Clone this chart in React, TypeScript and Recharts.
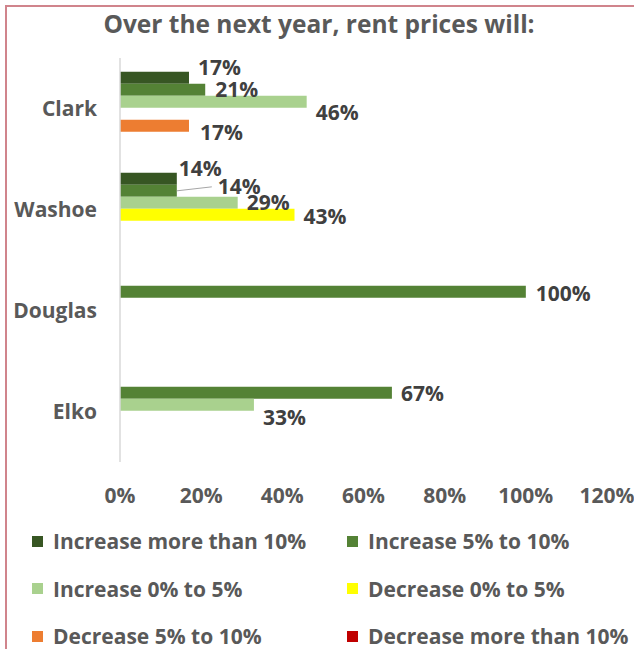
import { BarChart, Bar, XAxis, YAxis, LabelList } from "recharts";

const categories = ["Clark", "Washoe", "Douglas", "Elko"];
const seriesNames = [
  "Increase more than 10%",
  "Increase 5% to 10%",
  "Increase 0% to 5%",
  "Decrease 0% to 5%",
  "Decrease 5% to 10%",
  "Decrease more than 10%",
];
const incMore10 = [17, 14, null, null];
const inc5to10 = [21, 14, 100, 67];
const inc0to5 = [46, 29, null, 33];
const dec0to5 = [null, 43, null, null];
const dec5to10 = [17, null, null, null];
const decMore10 = [null, null, null, null];
const xTicks = [0, 20, 40, 60, 80, 100, 120];

const seriesValues = [incMore10, inc5to10, inc0to5, dec0to5, dec5to10, decMore10];
const colors = ["#375623", "#548235", "#A9D18E", "#FFFF00", "#ED7D31", "#C00000"];

// hand-dragged label positions from the original (dx, dy), keyed series-category
const labelNudges: Record<string, [number, number]> = {
  "0-0": [0, -10],
  "1-0": [1, 0],
  "2-0": [0, 11],
  "4-0": [2, 7],
  "0-1": [-7, -10],
  "1-1": [32, -4],
  "2-1": [0, 0],
  "3-1": [0, 2],
  "1-2": [1, 2],
  "1-3": [0, 1],
  "2-3": [0, 13],
};

const data = categories.map((name, i) => {
  const row: Record<string, any> = { name };
  seriesValues.forEach((vals, s) => {
    row[`s${s}`] = vals[i];
  });
  return row;
});

const font = "'Open Sans', sans-serif";

function makeLabel(s: number) {
  return (props: any) => {
    const { x, y, width, height, value: entry } = props;
    if (!entry) return null;
    const value = entry[`s${s}`];
    if (value == null || value === 0) return null;
    const ci = categories.indexOf(entry.name);
    const [dx, dy] = labelNudges[`${s}-${ci}`] || [0, 0];
    const lx = x + width + 9 + dx;
    const ly = y + height / 2 + dy;
    return (
      <g>
        {dx > 20 && (
          <line x1={x + width} y1={y + height / 2} x2={lx - 6} y2={ly} stroke="#a6a6a6" strokeWidth={1} />
        )}
        <text x={lx} y={ly} dy="0.36em" fill="#404040" fontSize={21} fontWeight={700} fontFamily={font}>
          {`${value}%`}
        </text>
      </g>
    );
  };
}

export default function App() {
  return (
    <div style={{ position: "fixed", left: 0, top: 0, width: 634, height: 649, background: "#fff", overflow: "hidden", fontFamily: font }}>
      <div style={{ position: "absolute", left: 5, top: 5, width: 700, height: 700, borderLeft: "2px solid #d0848c", borderTop: "2px solid #d0848c" }} />
      <div style={{ position: "absolute", left: 0, width: 638, top: 7, textAlign: "center", fontSize: 24.5, fontWeight: 700, color: "#595959", whiteSpace: "nowrap" }}>
        Over the next year, rent prices will:
      </div>
      <div style={{ position: "absolute", left: 0, top: 0 }}>
        <BarChart
          width={634}
          height={520}
          data={data}
          layout="vertical"
          margin={{ top: 58, right: 27, bottom: 18, left: 0 }}
          barCategoryGap="13.7%"
          barGap={0}
        >
          <XAxis
            type="number"
            domain={[0, 120]}
            ticks={xTicks}
            tickFormatter={(v) => `${v}%`}
            axisLine={false}
            tickLine={false}
            tickSize={0}
            tickMargin={26}
            height={40}
            tick={{ fill: "#595959", fontSize: 21, fontWeight: 700, fontFamily: font }}
            interval={0}
          />
          <YAxis
            type="category"
            dataKey="name"
            width={120}
            axisLine={{ stroke: "#d9d9d9", strokeWidth: 1.5 }}
            tickLine={false}
            tickSize={0}
            tickMargin={23}
            tick={{ fill: "#595959", fontSize: 21, fontWeight: 700, fontFamily: font }}
          />
          {seriesNames.map((n, s) => (
            <Bar key={n} dataKey={`s${s}`} name={n} fill={colors[s]} isAnimationActive={false}>
              <LabelList dataKey={(entry: any) => entry} content={makeLabel(s)} />
            </Bar>
          ))}
        </BarChart>
      </div>
      <div style={{ position: "absolute", left: 32, top: 527, width: 600 }}>
        {seriesNames.map((n, s) => (
          <div
            key={n}
            style={{
              position: "absolute",
              left: s % 2 === 0 ? 0 : 315,
              top: Math.floor(s / 2) * 47.5,
              display: "flex",
              alignItems: "center",
              whiteSpace: "nowrap",
              fontSize: 21,
              fontWeight: 700,
              color: "#595959",
              lineHeight: "28px",
            }}
          >
            <span style={{ display: "inline-block", width: 11, height: 11, background: colors[s], marginRight: 10 }} />
            {n}
          </div>
        ))}
      </div>
    </div>
  );
}
